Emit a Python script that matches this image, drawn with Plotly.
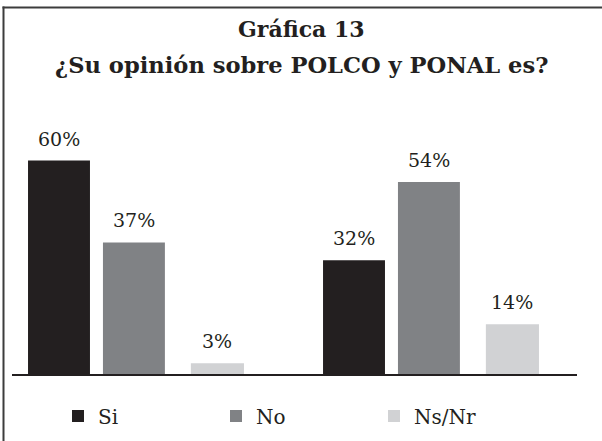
import plotly.graph_objects as go

# ---- data ----
groups = ["POLCO", "PONAL"]
series_names = ["Si", "No", "Ns/Nr"]
si_values = [60, 32]
no_values = [37, 54]
nsnr_values = [3, 14]
title_line1 = "Gráfica 13"
title_line2 = "¿Su opinión sobre POLCO y PONAL es?"

# ---- style ----
colors = ["#231f20", "#808285", "#d1d2d4"]
offsets = [-0.366, -0.112, 0.186]
widths = [0.210, 0.210, 0.180]
FONT = "DejaVu Serif"
TXT = "#231f20"

W, H = 602, 441
ML, MR, MT, MB = 12, 25, 125, 67
PW, PH = W - ML - MR, H - MT - MB
YMAX = 70


def px_x(px):
    return (px - ML) / PW


def px_y(py):
    return (H - MB - py) / PH


fig = go.Figure()
all_values = [si_values, no_values, nsnr_values]
for name, vals, col, off, wd in zip(series_names, all_values, colors, offsets, widths):
    fig.add_trace(go.Bar(
        name=name, x=list(range(len(groups))), y=vals,
        marker=dict(color=col, line=dict(width=0)),
        offset=off, width=wd,
    ))
    for i, v in enumerate(vals):
        fig.add_annotation(
            x=i + off + wd / 2, y=v, xref="x", yref="y",
            text=f"{v}%", showarrow=False, yanchor="bottom", yshift=9,
            font=dict(family=FONT, size=19, color=TXT),
        )

# titles
fig.add_annotation(x=px_x(301), y=px_y(29), xref="paper", yref="paper",
                   text=f"<b>{title_line1}</b>", showarrow=False,
                   yanchor="middle", font=dict(family=FONT, size=22, color=TXT))
fig.add_annotation(x=px_x(301), y=px_y(65), xref="paper", yref="paper",
                   text=f"<b>{title_line2}</b>", showarrow=False,
                   yanchor="middle", font=dict(family=FONT, size=22.6, color=TXT))

# frame (top and left border), drawn as thin filled bands
fig.add_shape(type="rect", xref="paper", yref="paper",
              x0=px_x(2.5), x1=px_x(602), y0=px_y(8.5), y1=px_y(6.5),
              line=dict(width=0), fillcolor="#3c3c3c")
fig.add_shape(type="rect", xref="paper", yref="paper",
              x0=px_x(2.5), x1=px_x(4.5), y0=px_y(441), y1=px_y(6.5),
              line=dict(width=0), fillcolor="#3c3c3c")

fig.update_layout(
    width=W, height=H,
    margin=dict(l=ML, r=MR, t=MT, b=MB, autoexpand=False),
    barmode="overlay",
    plot_bgcolor="rgba(0,0,0,0)", paper_bgcolor="white",
    showlegend=True,
    legend=dict(orientation="h", x=px_x(58), xanchor="left",
                y=px_y(416), yanchor="middle",
                entrywidth=113, entrywidthmode="pixels",
                font=dict(family=FONT, size=20, color=TXT),
                bgcolor="rgba(0,0,0,0)"),
    xaxis=dict(range=[-0.4203, 1.4949], showticklabels=False, showgrid=False,
               zeroline=False, showline=True, linecolor="#231f20", linewidth=2,
               ticks="", fixedrange=True),
    yaxis=dict(range=[0, YMAX], visible=False, showgrid=False, zeroline=False,
               fixedrange=True),
    font=dict(family=FONT, color=TXT),
)

fig.write_html("out.html", config={"displayModeBar": False},
               post_script="document.body.style.margin='0';document.body.style.overflow='hidden';")
